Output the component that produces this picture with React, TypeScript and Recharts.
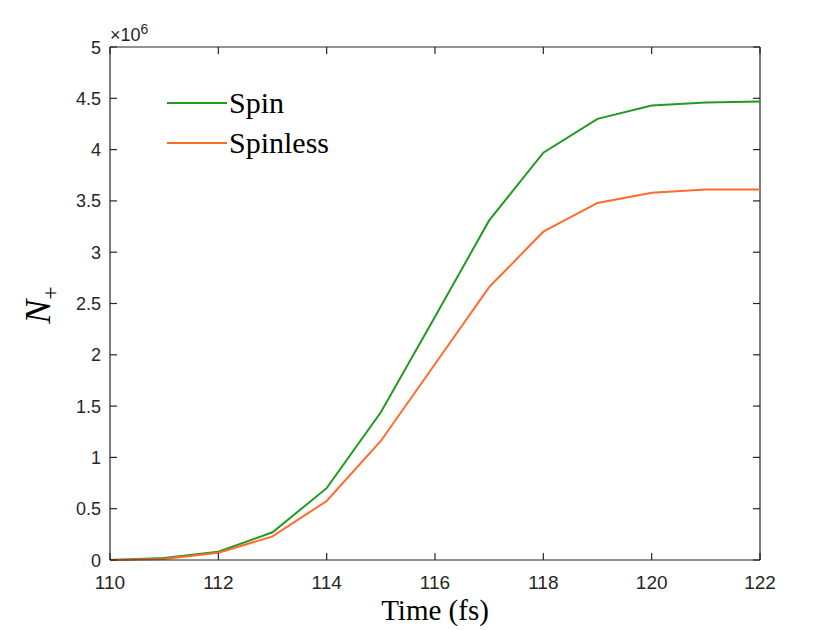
import React from 'react';
import { LineChart, Line, XAxis, YAxis, Legend, ReferenceLine } from 'recharts';

// time axis in fs, N+ values in units of 1e6
const times = [110, 111, 112, 113, 114, 115, 116, 117, 118, 119, 120, 121, 122];
const spin = [0, 0.02, 0.08, 0.27, 0.7, 1.44, 2.37, 3.31, 3.97, 4.3, 4.43, 4.46, 4.47];
const spinless = [0, 0.01, 0.07, 0.23, 0.575, 1.16, 1.91, 2.66, 3.2, 3.48, 3.58, 3.61, 3.61];

const xTicks = [110, 112, 114, 116, 118, 120, 122];
const yTicks = [0, 0.5, 1, 1.5, 2, 2.5, 3, 3.5, 4, 4.5, 5];

const series = [
  { key: 'spin', name: 'Spin', color: '#229922' },
  { key: 'spinless', name: 'Spinless', color: '#FF6A2D' },
];

const data = times.map((t, i) => ({ t, spin: spin[i], spinless: spinless[i] }));

const AXIS = '#262626';
const TICK_FONT = 'Liberation Sans, Arial, sans-serif';
const SERIF = 'Liberation Serif, Times New Roman, serif';
const TICK_LEN = 7;

function XTick(props: any) {
  const { x, y, payload } = props;
  return (
    <g>
      <line x1={x} x2={x} y1={y} y2={y - TICK_LEN} stroke={AXIS} strokeWidth={1.2} />
      <text x={x} y={y + 29} textAnchor="middle" style={{ fontFamily: TICK_FONT, fontSize: '19px' }} fill={AXIS}>
        {payload.value}
      </text>
    </g>
  );
}

function YTick(props: any) {
  const { x, y, payload } = props;
  return (
    <g>
      <line x1={x} x2={x + TICK_LEN} y1={y} y2={y} stroke={AXIS} strokeWidth={1.2} />
      <text x={x - 9} y={y + 6.5} textAnchor="end" style={{ fontFamily: TICK_FONT, fontSize: '18px' }} fill={AXIS}>
        {payload.value}
      </text>
    </g>
  );
}

// short tick marks on the top edge and right edge of the box
const topTick = (p: any) => {
  const top = Math.min(p.y1, p.y2);
  return <line x1={p.x1} x2={p.x1} y1={top} y2={top + TICK_LEN} stroke={AXIS} strokeWidth={1.2} />;
};
const rightTick = (p: any) => {
  const right = Math.max(p.x1, p.x2);
  return <line x1={right} x2={right - TICK_LEN} y1={p.y1} y2={p.y1} stroke={AXIS} strokeWidth={1.2} />;
};

function LegendBox() {
  return (
    <div style={{ fontFamily: SERIF, fontSize: 30, lineHeight: '40px', color: '#000' }}>
      {series.map((s) => (
        <div key={s.key} style={{ display: 'flex', alignItems: 'center' }}>
          <svg width={64} height={40}>
            <line x1={2} x2={62} y1={20} y2={20} stroke={s.color} strokeWidth={2} />
          </svg>
          <span>{s.name}</span>
        </div>
      ))}
    </div>
  );
}

export default function App() {
  return (
    <div style={{ position: 'absolute', left: 0, top: 0, width: 840, height: 630, background: '#fff' }}>
      <LineChart width={840} height={630} data={data} margin={{ top: 47, right: 80, bottom: 40, left: 70 }}>
        <XAxis
          dataKey="t"
          type="number"
          domain={[110, 122]}
          ticks={xTicks}
          height={30}
          tickSize={0}
          tickMargin={0}
          stroke={AXIS}
          strokeWidth={1.2}
          tick={<XTick />}
          label={{
            content: () => (
              <text x={435} y={620} textAnchor="middle" style={{ fontFamily: SERIF, fontSize: '29px' }} fill="#000">
                Time (fs)
              </text>
            ),
          }}
        />
        <YAxis
          type="number"
          domain={[0, 5]}
          ticks={yTicks}
          width={40}
          tickSize={0}
          tickMargin={0}
          stroke={AXIS}
          strokeWidth={1.2}
          tick={<YTick />}
          label={{
            content: () => (
              <g>
                <text x={110} y={41} style={{ fontFamily: TICK_FONT, fontSize: '18px' }} fill={AXIS}>
                  ×10
                  <tspan dy={-7} style={{ fontSize: '14px' }}>6</tspan>
                </text>
                <text
                  transform="translate(50 305) rotate(-90)"
                  textAnchor="middle"
                  style={{ fontFamily: SERIF }}
                  fill="#000"
                >
                  <tspan style={{ fontStyle: 'italic', fontSize: '36px' }}>N</tspan>
                  <tspan dy={8} style={{ fontSize: '24px' }}>+</tspan>
                </text>
              </g>
            ),
          }}
        />
        {/* box: top and right edges */}
        <ReferenceLine y={5} stroke={AXIS} strokeWidth={1.2} ifOverflow="visible" />
        <ReferenceLine x={122} stroke={AXIS} strokeWidth={1.2} ifOverflow="visible" />
        {xTicks.map((t) => (
          <ReferenceLine key={`tx${t}`} x={t} stroke={AXIS} shape={topTick} ifOverflow="visible" />
        ))}
        {yTicks.map((v) => (
          <ReferenceLine key={`ry${v}`} y={v} stroke={AXIS} shape={rightTick} ifOverflow="visible" />
        ))}
        <Legend
          verticalAlign="middle"
          align="center"
          content={<LegendBox />}
          wrapperStyle={{ position: 'absolute', left: 165, top: 83, width: 'auto' }}
        />
        {series.map((s) => (
          <Line
            key={s.key}
            dataKey={s.key}
            name={s.name}
            type="linear"
            stroke={s.color}
            strokeWidth={2}
            dot={false}
            isAnimationActive={false}
          />
        ))}
      </LineChart>
    </div>
  );
}
